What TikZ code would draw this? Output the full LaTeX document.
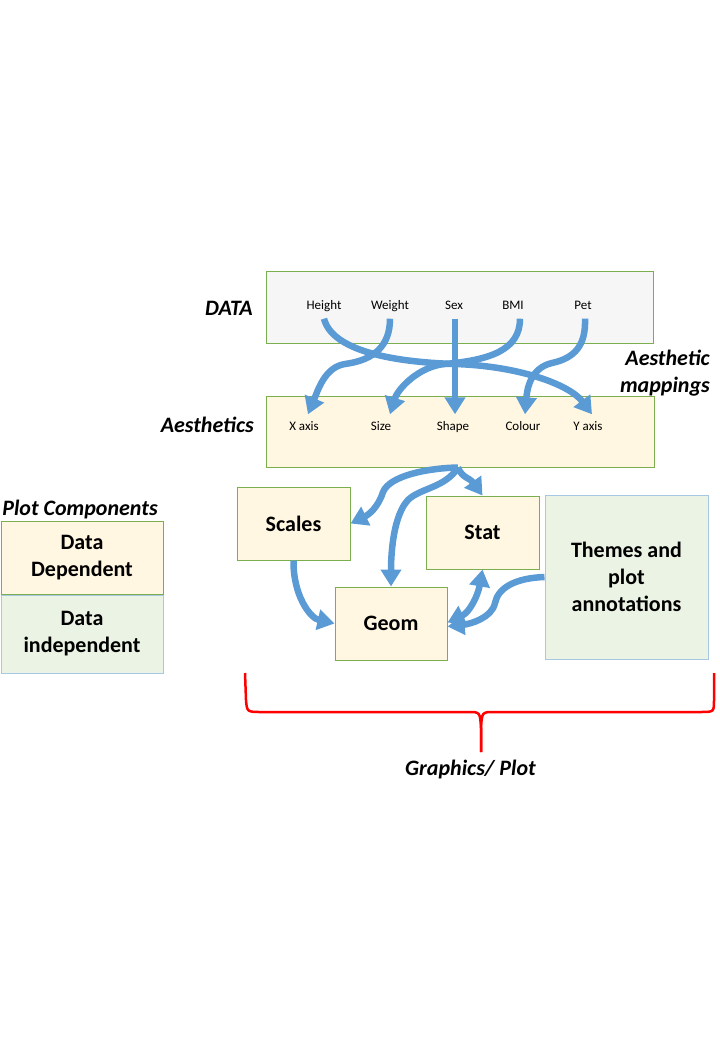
\documentclass[tikz,border=0pt]{standalone}
\usepackage{xcolor}
\usepackage{fontspec}
\setmainfont{Carlito}
\usepackage{tikz}
\usetikzlibrary{positioning,arrows.meta}

\definecolor{flowblue}{HTML}{5B9BD5}
\definecolor{boxgreen}{HTML}{7AAE4F}
\definecolor{boxblue}{HTML}{A6C8E4}
\definecolor{cream}{HTML}{FFF7E1}
\definecolor{palegreen}{HTML}{EBF3E4}
\definecolor{palegray}{HTML}{F6F6F6}

\begin{document}
\begin{tikzpicture}[x=1pt,y=-1pt,
        comp/.style={draw=boxgreen,fill=cream,line width=1pt,align=center,
            font=\fontsize{22}{27}\selectfont\bfseries},
        indep/.style={comp,draw=boxblue,fill=palegreen},
        var/.style={anchor=base,inner xsep=0pt,inner ysep=6.5pt,text height=9pt,
            text depth=3pt,font=\fontsize{13}{15}\selectfont},
        lbl/.style={anchor=base,inner sep=0pt,align=center,
            font=\fontsize{22}{27}\selectfont\bfseries\itshape},
        flow/.style={draw=flowblue,line width=6.5pt,-{Triangle[length=17pt,width=20pt]}}]
                \useasboundingbox (0,0) rectangle (720,1063);
                % data and aesthetics bands
                \node[comp,draw=boxgreen,fill=palegray,minimum width=387pt,minimum height=72pt] (data) at (459.5,307) {};
                \node[comp,minimum width=388pt,minimum height=71pt] (aes) at (460,431.5) {};
                \node[lbl,anchor=base east] (datalbl) at (253,315) {DATA};
                \node[lbl,anchor=base east] (aeslbl) at (254,432) {Aesthetics};
                \node[lbl,anchor=north east,align=right] (maplbl) at (710,350) {Aesthetic\\mappings};
                % variables
                \node[var] (h) at (324,309) {Height};
                \node[var] (w) at (390,309) {Weight};
                \node[var] (sx) at (454,309) {Sex};
                \node[var] (bmi) at (513,309) {BMI};
                \node[var] (pet) at (583,309) {Pet};
                \node[var] (xa) at (304,430) {X axis};
                \node[var] (sz) at (381,430) {Size};
                \node[var] (shp) at (453,430) {Shape};
                \node[var] (col) at (523,430) {Colour};
                \node[var] (ya) at (588,430) {Y axis};
                % components
                \node[comp,minimum width=113pt,minimum height=73pt] (scales) at (293.5,523.5) {Scales};
                \node[comp,minimum width=113pt,minimum height=73pt] (stat) at (482.5,532.5) {Stat};
                \node[comp,minimum width=112pt,minimum height=73pt] (geom) at (391,623.5) {Geom};
                \node[indep,minimum width=163pt,minimum height=164pt] (themes) at (626.5,577) {Themes and\\plot\\annotations};
                % legend
                \node[lbl] (leglbl) at (80,515) {Plot Components};
                \node[comp,minimum width=162pt,minimum height=73pt] (dep) at (82,557.5) {Data\\Dependent};
                \node[indep,minimum width=162pt,minimum height=78pt] (indep) at (82,634) {Data\\independent};
                % mappings
                \draw[flow] (h.south) .. controls (332,350) and (390,362) .. (455,364)
                    .. controls (520,366) and (570,385) .. ([xshift=4pt]ya.north);
                \draw[flow] (w.south) .. controls (390,345) and (375,360) .. (345,364)
                    .. controls (325,367) and (318,390) .. ([xshift=4pt]xa.north);
                \draw[flow] ([xshift=1pt]sx.south) -- ([xshift=2pt]shp.north);
                \draw[flow] ([xshift=7pt]bmi.south) .. controls (520,350) and (490,360) .. (445,364)
                    .. controls (420,366) and (398,388) .. ([xshift=9pt]sz.north);
                \draw[flow] ([xshift=2pt]pet.south) .. controls (586,345) and (575,358) .. (552,363)
                    .. controls (530,368) and (527,390) .. ([xshift=2pt]col.north);
                % flow between components
                \draw[flow] ([xshift=-2pt]aes.south) .. controls (430,468) and (390,475) .. (383,492)
                    .. controls (378,508) and (368,515) .. (scales.east);
                \draw[flow] ([xshift=-2pt]aes.south) .. controls (445,488) and (420,488) .. (408,500)
                    .. controls (394,515) and (391,550) .. (geom.north);
                \draw[flow] ([xshift=-2pt]aes.south) .. controls (462,478) and (470,478) .. (stat.north);
                \draw[flow] (scales.south) .. controls (293,595) and (310,618) .. (geom.west);
                \draw[flow,{Triangle[length=17pt,width=20pt]}-{Triangle[length=17pt,width=20pt]}] (stat.south)
                    .. controls (478,595) and (470,612) .. ([yshift=1pt]geom.east);
                \draw[flow] (themes.west) .. controls (515,578) and (498,588) .. (495,603)
                    .. controls (492,618) and (470,624) .. ([yshift=-3pt]geom.east);
                % brace
                \coordinate (bl) at (245,673);
                \coordinate (br) at (714,673);
                \coordinate (btip) at (481,752);
                \draw[red,line width=2.5pt] (bl) -- (246,700) .. controls (247,712) .. (262,712) -- (468,712)
                    .. controls (480,712) .. (481,728) -- (btip);
                \draw[red,line width=2.5pt] (btip) -- (481,728) .. controls (482,712) .. (494,712) -- (700,712)
                    .. controls (714,712) .. (714,700) -- (br);
                \node[lbl] (plotlbl) at (470.5,775) {Graphics/ Plot};
            \end{tikzpicture}
\end{document}
